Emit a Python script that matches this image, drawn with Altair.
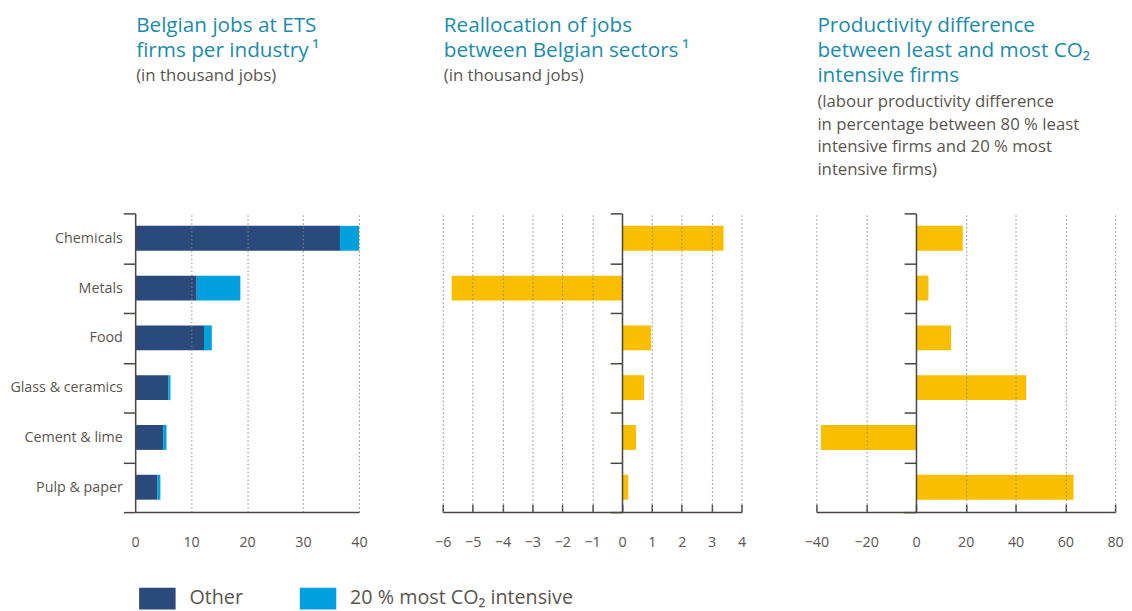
import altair as alt
import pandas as pd

industries = ["Chemicals", "Metals", "Food", "Glass & ceramics", "Cement & lime", "Pulp & paper"]
jobs_other = [36.6, 11.0, 12.3, 5.9, 5.0, 4.0]
jobs_co2 = [3.4, 7.8, 1.4, 0.4, 0.6, 0.5]
realloc = [3.4, -5.7, 0.97, 0.74, 0.47, 0.21]
prod_diff = [18.8, 5.0, 14.1, 44.3, -38.2, 63.3]
series = ["Other", "20 % most CO\u2082 intensive"]

x1_ticks = [0, 10, 20, 30, 40]
x2_ticks = [-6, -5, -4, -3, -2, -1, 0, 1, 2, 3, 4]
x3_ticks = [-40, -20, 0, 20, 40, 60, 80]

title1 = ["Belgian jobs at ETS", "firms per industry\u2009\u00b9"]
sub1 = ["(in thousand jobs)"]
title2 = ["Reallocation of jobs", "between Belgian sectors\u2009\u00b9"]
sub2 = ["(in thousand jobs)"]
title3 = ["Productivity difference", "between least and most CO\u2082", "intensive firms"]
sub3 = ["(labour productivity difference", "in percentage between 80 % least",
        "intensive firms and 20 % most", "intensive firms)"]

DARK = "#2a4a7c"
LIGHT = "#00a0df"
YELLOW = "#f9be00"
TEAL = "#1a8cab"
GRAY = "#5a554f"
AXIS = "#4a4540"
GRID = "#8c8680"
FONT = "Open Sans"

W1, W2, W3, H = 227, 303, 303, 303

one = pd.DataFrame({"k": [0]})


def text_block(lines, y, size, color, lh):
    return alt.Chart(one).mark_text(
        text=lines, align="left", baseline="alphabetic", font=FONT, fontSize=size,
        color=color, lineHeight=lh,
    ).encode(x=alt.value(1), y=alt.value(y))


def titles(t, s, sub_y):
    return [text_block(t, -184, 21, TEAL, 25.5), text_block(s, sub_y, 17, GRAY, 23)]


def y_axis(offset=0, labels=True):
    kw = dict(title=None, tickBand="extent", tickSize=12, tickColor=AXIS, tickWidth=1.5,
              domainColor=AXIS, domainWidth=1.5, grid=False, labels=labels,
              labelFont=FONT, labelFontSize=14.5, labelColor=GRAY, labelPadding=1, zindex=1)
    if offset:
        kw["offset"] = offset
    return alt.Axis(**kw)


def y_enc(offset=0, labels=True):
    return alt.Y("industry:N", sort=industries,
                 scale=alt.Scale(paddingInner=0, paddingOuter=0),
                 axis=y_axis(offset, labels))


def x_axis(vals):
    return alt.Axis(values=vals, title=None, ticks=False, grid=True, gridDash=[1.5, 2.5],
                    gridColor=GRID, gridWidth=1, domainColor=AXIS, domainWidth=1.5,
                    labelFont=FONT, labelFontSize=14.5, labelColor=GRAY, labelPadding=24,
                    labelFlush=False, zindex=1)


def tick_axis(vals):
    return alt.Axis(values=vals, title=None, orient="top", offset=-H, ticks=True, tickSize=8,
                    tickColor=AXIS, tickWidth=1.5, labels=False, domain=False, grid=False)


BAR_H = alt.RelativeBandSize(0.5)

# Panel 1
rows = []
for i, ind in enumerate(industries):
    rows.append({"industry": ind, "series": series[0], "value": jobs_other[i], "ord": 0})
    rows.append({"industry": ind, "series": series[1], "value": jobs_co2[i], "ord": 1})
df1 = pd.DataFrame(rows)

bars1 = alt.Chart(df1).mark_bar(height=BAR_H).encode(
    x=alt.X("value:Q", stack="zero", scale=alt.Scale(domain=[0, 40], nice=False), axis=x_axis(x1_ticks)),
    y=y_enc(),
    color=alt.Color("series:N", scale=alt.Scale(domain=series, range=[DARK, LIGHT]),
                    legend=alt.Legend(title=None, orient="none", direction="horizontal",
                                      legendX=4, legendY=372,
                                      symbolType="M-1,-0.6H1V0.6H-1Z", symbolSize=1369,
                                      symbolStrokeWidth=0, symbolOpacity=1,
                                      labelFont=FONT, labelFontSize=20, labelColor=GRAY,
                                      labelOffset=14, columnPadding=57, labelLimit=400)),
    order=alt.Order("ord:Q"),
)
p1 = alt.layer(bars1, *titles(title1, sub1, -134)).properties(width=W1, height=H)

# Panel 2
df2 = pd.DataFrame({"industry": industries, "value": realloc})
sc2 = alt.Scale(domain=[-6, 4], nice=False)
base2 = alt.Chart(df2).encode(y=y_enc(offset=-W2 * 0.6, labels=False))
bars2 = base2.mark_bar(color=YELLOW, height=BAR_H).encode(
    x=alt.X("value:Q", scale=sc2, axis=x_axis(x2_ticks)))
tk2 = base2.mark_bar(opacity=0, height=BAR_H).encode(
    x=alt.X("value:Q", scale=sc2, axis=tick_axis(x2_ticks)))
p2 = alt.layer(bars2, tk2, *titles(title2, sub2, -134)).resolve_axis(x="independent").properties(
    width=W2, height=H)

# Panel 3
df3 = pd.DataFrame({"industry": industries, "value": prod_diff})
sc3 = alt.Scale(domain=[-40, 80], nice=False)
base3 = alt.Chart(df3).encode(y=y_enc(offset=-W3 / 3, labels=False))
bars3 = base3.mark_bar(color=YELLOW, height=BAR_H).encode(
    x=alt.X("value:Q", scale=sc3, axis=x_axis(x3_ticks)))
tk3 = base3.mark_bar(opacity=0, height=BAR_H).encode(
    x=alt.X("value:Q", scale=sc3, axis=tick_axis(x3_ticks)))
p3 = alt.layer(bars3, tk3, *titles(title3, sub3, -108)).resolve_axis(x="independent").properties(
    width=W3, height=H)

chart = alt.hconcat(p1, alt.hconcat(p2, p3, spacing=58), spacing=67).configure(
    padding={"left": 1, "top": 3, "right": 0, "bottom": 0}, background="white"
).configure_view(stroke=None)

chart.save("out.html", embed_options={"renderer": "svg", "actions": False})
